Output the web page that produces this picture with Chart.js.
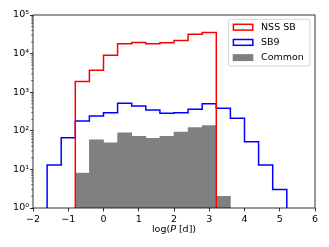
<!DOCTYPE html>
<html><head><meta charset="utf-8">
<script src="https://cdn.jsdelivr.net/npm/chart.js@4"></script>
<style>html,body{margin:0;padding:0;background:#fff;}canvas{display:block;}</style>
</head><body>
<canvas id="c" width="329" height="247"></canvas>
<script>
const binEdges = [-1.6,-1.2,-0.8,-0.4,0,0.4,0.8,1.2,1.6,2.0,2.4,2.8,3.2,3.6,4.0,4.4,4.8,5.2];
const nssCounts = [0,0,1900,3700,9000,18000,19300,18000,19000,22000,31500,35000,0,0,0,0,0];
const sb9Counts = [13,66,179,242,295,515,440,347,284,295,360,505,383,212,52,13,3];
const commonCounts = [0,0,8,58,49,88,72,64,72,92,121,136,2,0,0,0,0];
const seriesLabels = ['NSS SB','SB9','Common'];
const xTickValues = [-2,-1,0,1,2,3,4,5,6];
const xTickLabels = ['\u22122','\u22121','0','1','2','3','4','5','6'];
const yTickValues = [1,10,100,1000,10000,100000];
const yTickLabels = ['10\u2070','10\u00b9','10\u00b2','10\u00b3','10\u2074','10\u2075'];
const xTitleParts = ['log(', 'P', ' [d])'];

const FONT = 'DejaVu Sans';
const FS = 9.5;
const Y_MIN = yTickValues[0], Y_MAX = yTickValues[yTickValues.length-1];

function stepPoints(counts){
  const first = counts.findIndex(v => v > 0);
  let last = counts.length - 1;
  while (last >= 0 && !(counts[last] > 0)) last--;
  const pts = [{x: binEdges[first], y: Y_MIN}];
  for (let i = first; i <= last; i++) pts.push({x: binEdges[i], y: counts[i]});
  pts.push({x: binEdges[last+1], y: counts[last]});
  pts.push({x: binEdges[last+1], y: Y_MIN});
  return pts;
}
function barPoints(counts){
  const out = [];
  counts.forEach((v, i) => { if (v > 0) out.push({x: (binEdges[i] + binEdges[i+1]) / 2, y: [Y_MIN, v]}); });
  return out;
}

const colors = ['#ff0000', '#0000ff', '#808080'];

const decor = {
  id: 'decor',
  afterDraw(chart){
    const {ctx, chartArea: a, scales: {x, y}} = chart;
    ctx.save();
    // minor ticks on log axis
    ctx.strokeStyle = '#000'; ctx.lineWidth = 0.6;
    for (let d = 0; d < yTickValues.length - 1; d++) {
      for (let k = 2; k <= 9; k++) {
        const py = y.getPixelForValue(yTickValues[d] * k);
        ctx.beginPath(); ctx.moveTo(a.left - 1.8, py); ctx.lineTo(a.left, py); ctx.stroke();
      }
    }
    // frame
    ctx.strokeStyle = '#000'; ctx.lineWidth = 0.8;
    ctx.strokeRect(a.left, a.top, a.right - a.left, a.bottom - a.top);
    // x title with italic P
    const fN = FS + 'px "' + FONT + '"', fI = 'oblique ' + FS + 'px "' + FONT + '"';
    const fonts = [fN, fI, fN];
    let w = 0; const ws = xTitleParts.map((t, i) => { ctx.font = fonts[i]; const m = ctx.measureText(t).width; w += m; return m; });
    let tx = (a.left + a.right) / 2 - w / 2;
    ctx.fillStyle = '#000'; ctx.textBaseline = 'middle'; ctx.textAlign = 'left';
    xTitleParts.forEach((t, i) => { ctx.font = fonts[i]; ctx.fillText(t, tx, 230); tx += ws[i]; });
    // legend
    const bx = 228.5, by = 19.3, bw = 81.5, bh = 46.7, r = 2;
    ctx.beginPath();
    ctx.moveTo(bx + r, by); ctx.lineTo(bx + bw - r, by); ctx.quadraticCurveTo(bx + bw, by, bx + bw, by + r);
    ctx.lineTo(bx + bw, by + bh - r); ctx.quadraticCurveTo(bx + bw, by + bh, bx + bw - r, by + bh);
    ctx.lineTo(bx + r, by + bh); ctx.quadraticCurveTo(bx, by + bh, bx, by + bh - r);
    ctx.lineTo(bx, by + r); ctx.quadraticCurveTo(bx, by, bx + r, by); ctx.closePath();
    ctx.fillStyle = 'rgba(255,255,255,0.8)'; ctx.fill();
    ctx.strokeStyle = '#cccccc'; ctx.lineWidth = 0.8; ctx.stroke();
    const rows = [27.2, 42.4, 57.6];
    chart.data.datasets.forEach((ds, i) => {
      const cy = rows[i];
      if (ds.type === 'bar') {
        ctx.fillStyle = ds.backgroundColor; ctx.fillRect(232.7, cy - 3.5, 20.6, 7);
      } else {
        ctx.strokeStyle = ds.borderColor; ctx.lineWidth = 1.5;
        ctx.strokeRect(233.4, cy - 2.9, 19.4, 5.8);
      }
      ctx.fillStyle = '#000'; ctx.font = fN; ctx.textBaseline = 'middle';
      ctx.fillText(ds.label, 261, cy);
    });
    ctx.restore();
  }
};

new Chart(document.getElementById('c'), {
  data: {
    datasets: [
      {type: 'line', label: seriesLabels[0], data: stepPoints(nssCounts), borderColor: colors[0], borderWidth: 1.5, stepped: 'before', pointRadius: 0, fill: false, order: 1},
      {type: 'line', label: seriesLabels[1], data: stepPoints(sb9Counts), borderColor: colors[1], borderWidth: 1.5, stepped: 'before', pointRadius: 0, fill: false, order: 2},
      {type: 'bar', label: seriesLabels[2], data: barPoints(commonCounts), backgroundColor: colors[2], borderWidth: 0, barPercentage: 1, categoryPercentage: 1, order: 3}
    ]
  },
  options: {
    responsive: false, animation: false, devicePixelRatio: 1,
    layout: {padding: {top: 15, right: 14, left: 0, bottom: 0}},
    plugins: {legend: {display: false}, tooltip: {enabled: false}},
    scales: {
      x: {
        type: 'linear', min: xTickValues[0], max: xTickValues[xTickValues.length-1], offset: false,
        afterBuildTicks: s => { s.ticks = xTickValues.map(v => ({value: v})); },
        ticks: {callback: (v, i) => xTickLabels[i], color: '#000', font: {family: FONT, size: FS}, padding: 2, autoSkip: false, maxRotation: 0},
        grid: {drawOnChartArea: false, tickLength: 3.5, tickColor: '#000', tickWidth: 0.8, offset: false},
        border: {display: false},
        afterFit: s => { s.height = 39; }
      },
      y: {
        type: 'logarithmic', min: Y_MIN, max: Y_MAX,
        afterBuildTicks: s => { s.ticks = yTickValues.map(v => ({value: v})); },
        ticks: {callback: (v, i) => yTickLabels[i], color: '#000', font: {family: FONT, size: FS}, padding: 1, autoSkip: false},
        grid: {drawOnChartArea: false, tickLength: 3, tickColor: '#000', tickWidth: 0.8},
        border: {display: false},
        afterFit: s => { s.width = 33; }
      }
    }
  },
  plugins: [decor]
});
</script>
</body></html>
